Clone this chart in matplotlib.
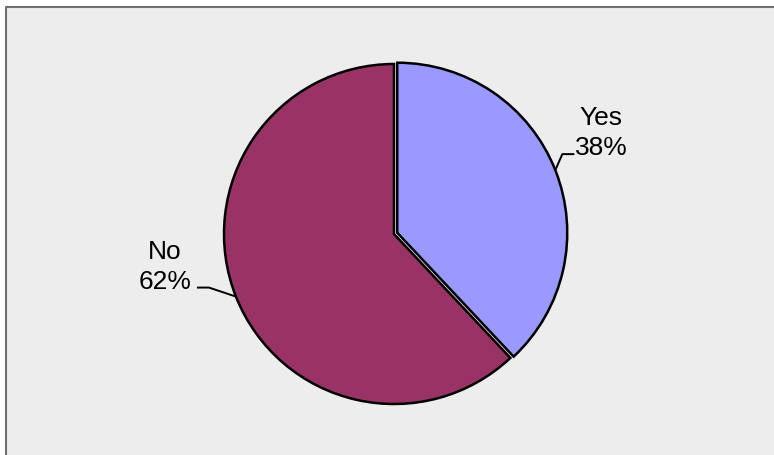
import numpy as np
import matplotlib
matplotlib.use("Agg")
import matplotlib.pyplot as plt
from matplotlib.patches import Rectangle

labels = ["Yes", "No"]
shares = [38, 62]
colors = ["#9999FF", "#993366"]

W, H = 774, 455
fig = plt.figure(figsize=(W / 100, H / 100), dpi=100, facecolor="white")
ax = fig.add_axes([0, 0, 1, 1])

# chart area background, frame only on left/top (rest is cropped off)
ax.add_patch(Rectangle((5.5, -10), W + 20, H - 6.5 + 10, facecolor="#EDEDED",
                       edgecolor="none", zorder=0))
ax.plot([5.5, 5.5, W + 5], [-5, H - 6.5, H - 6.5], color="#6F6F6F",
        linewidth=1.5, zorder=1)

center = (394, H - 234)
radius = 170
explode = [3.5, 0]  # pie explode is in data units here
wedges, _ = ax.pie(shares, colors=colors, startangle=90, counterclock=False,
                   center=center, radius=radius, explode=explode, frame=True,
                   wedgeprops=dict(edgecolor="black", linewidth=1.8))
ax.set_xlim(0, W)
ax.set_ylim(0, H)
ax.set_aspect("equal")
ax.axis("off")

text_pos = [(601, H - 133), (165, H - 267)]
for w, lab, val, (tx, ty) in zip(wedges, labels, shares, text_pos):
    ang = np.deg2rad((w.theta1 + w.theta2) / 2)
    cx, cy = w.center
    px = cx + w.r * np.cos(ang)
    py = cy + w.r * np.sin(ang)
    side = 1 if np.cos(ang) > 0 else -1
    # leader: diagonal out from the edge then short horizontal
    ex = px + side * (7 if side > 0 else 27)
    ey = py + (16 if side > 0 else 9)
    fx = ex + side * 12
    ax.plot([px, ex, fx], [py, ey, ey], color="black", linewidth=1.4,
            solid_capstyle="butt", zorder=3)
    ax.text(tx, ty, f"{lab}\n{val}%", ha="center", va="center",
            multialignment="center", fontsize=19, linespacing=1.3,
            family=["Liberation Sans", "DejaVu Sans"])

fig.savefig("out.png", dpi=100)
